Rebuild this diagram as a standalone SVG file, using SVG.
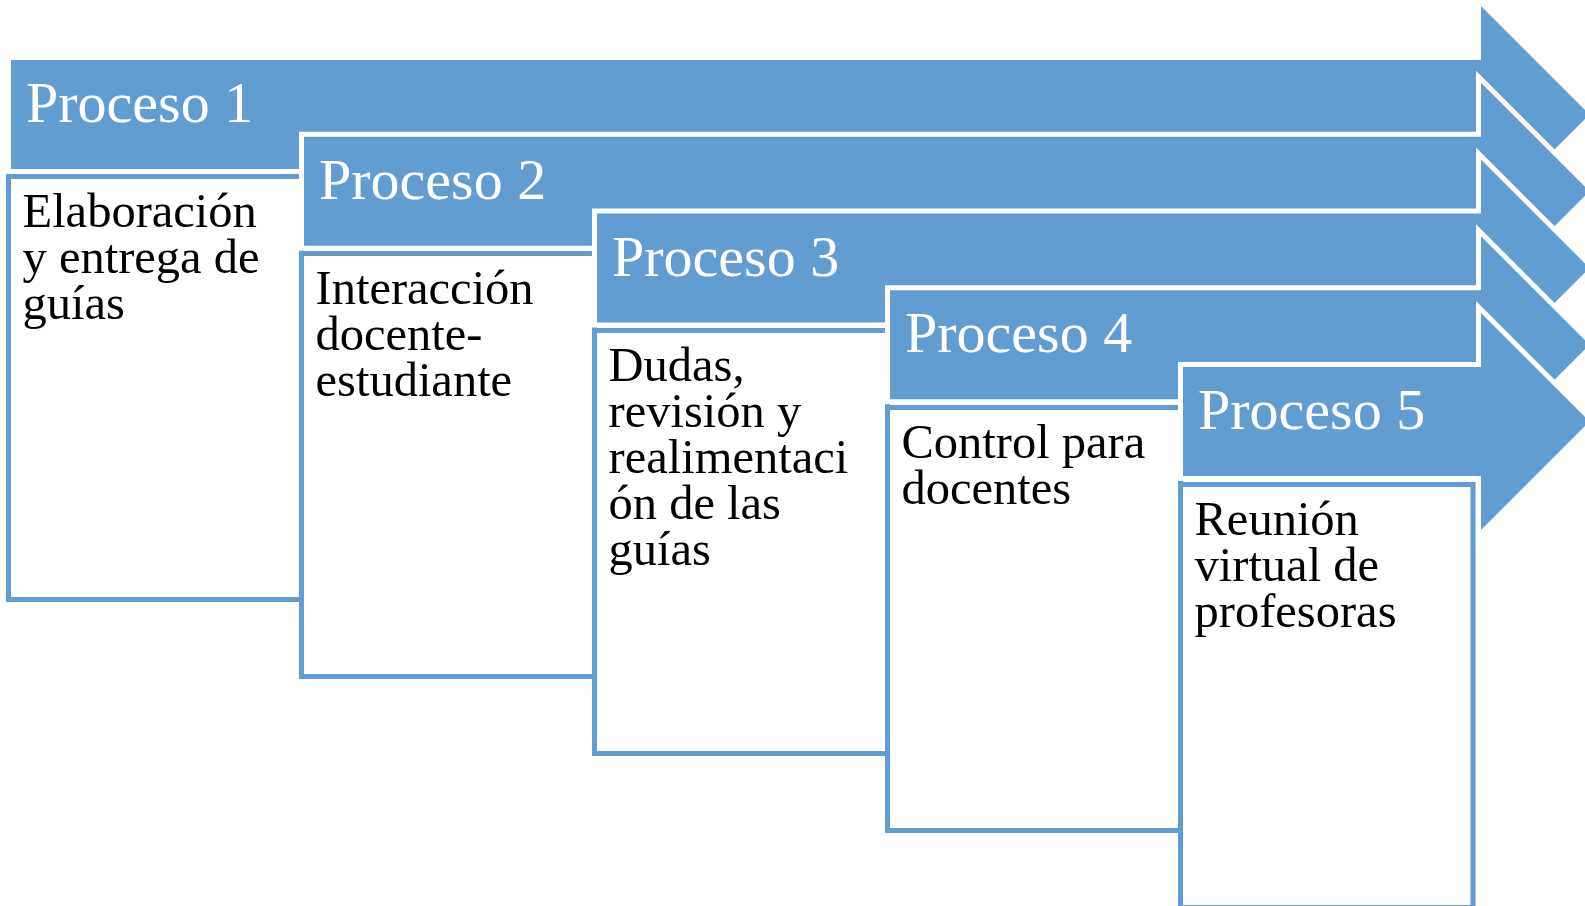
<svg xmlns="http://www.w3.org/2000/svg" width="1585" height="906" viewBox="0 0 1585 906">
<style>
.arrow{fill:#629DD1;stroke:#FFFFFF;stroke-width:10;paint-order:stroke;stroke-linejoin:miter}
.box{fill:#FFFFFF;stroke:#629DD1;stroke-width:5}
.head{font-family:"Liberation Serif","DejaVu Serif",serif;font-size:58px;fill:#FFFFFF}
.body{font-family:"Liberation Serif","DejaVu Serif",serif;font-size:48.5px;fill:#000000}
</style>
<rect width="1585" height="906" fill="#FFFFFF"/>
<g id="connectors"></g>
<g id="proceso1">
<path class="arrow" d="M11,60 H1481 V6 L1589.5,114.5 L1481,223 V169 H11 Z"/>
<rect class="box" x="8.5" y="176.5" width="293" height="423"/>
<text class="head" x="26" y="122">Proceso 1</text>
<text class="body" x="22.5" y="227"><tspan x="22.5" y="227">Elaboración</tspan><tspan x="22.5" y="273">y entrega de</tspan><tspan x="22.5" y="319">guías</tspan></text>
</g>
<g id="proceso2">
<path class="arrow" d="M304,136.75 H1481 V82.75 L1589.5,191.25 L1481,299.75 V245.75 H304 Z"/>
<rect class="box" x="301.5" y="253.5" width="293" height="423"/>
<text class="head" x="319" y="198.75">Proceso 2</text>
<text class="body"><tspan x="315.5" y="304">Interacción</tspan><tspan x="315.5" y="350">docente-</tspan><tspan x="315.5" y="396">estudiante</tspan></text>
</g>
<g id="proceso3">
<path class="arrow" d="M597,213.5 H1481 V159.5 L1589.5,268 L1481,376.5 V322.5 H597 Z"/>
<rect class="box" x="594.5" y="330.5" width="293" height="423"/>
<text class="head" x="612" y="275.5">Proceso 3</text>
<text class="body"><tspan x="608.5" y="381">Dudas,</tspan><tspan x="608.5" y="427">revisión y</tspan><tspan x="608.5" y="473">realimentaci</tspan><tspan x="608.5" y="519">ón de las</tspan><tspan x="608.5" y="565">guías</tspan></text>
</g>
<g id="proceso4">
<path class="arrow" d="M890,290.25 H1481 V236.25 L1589.5,344.75 L1481,453.25 V399.25 H890 Z"/>
<rect class="box" x="887.5" y="407.5" width="293" height="423"/>
<text class="head" x="905" y="352.25">Proceso 4</text>
<text class="body"><tspan x="901.5" y="458">Control para</tspan><tspan x="901.5" y="504">docentes</tspan></text>
</g>
<g id="proceso5">
<path class="arrow" d="M1183,367 H1481 V313 L1589.5,421.5 L1481,530 V476 H1183 Z"/>
<rect class="box" x="1180.5" y="484.5" width="292.5" height="423"/>
<text class="head" x="1198" y="429">Proceso 5</text>
<text class="body"><tspan x="1194.5" y="535">Reunión</tspan><tspan x="1194.5" y="581">virtual de</tspan><tspan x="1194.5" y="627">profesoras</tspan></text>
</g>
</svg>
